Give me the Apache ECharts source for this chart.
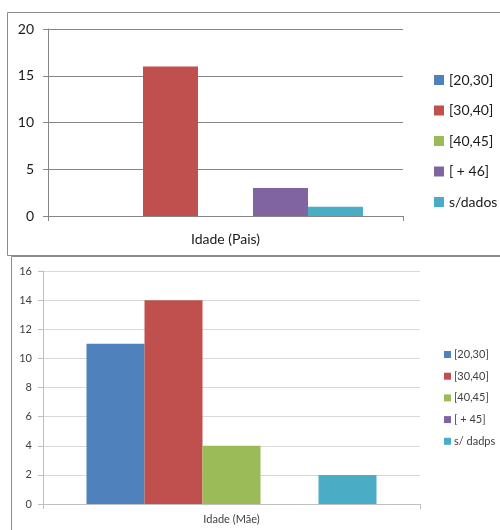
<!DOCTYPE html>
<html lang="pt">
<head>
    <meta charset="UTF-8">
    <title>Idade (Pais) / Idade (Mãe)</title>
    <style>
        html, body {
            margin: 0;
            padding: 0;
            background: #fff;
        }
        #chart {
            width: 500px;
            height: 530px;
        }
    </style>
    <script src="https://cdn.jsdelivr.net/npm/echarts@6/dist/echarts.min.js"></script>
</head>
<body>
    <div id="chart"></div>
    <script>
        // dados - gráfico de cima (pais)
        const paisCategoria = ['Idade (Pais)'];
        const paisSeries = ['[20,30]', '[30,40]', '[40,45]', '[ + 46]', 's/dados'];
        const paisValores = [0, 16, 0, 3, 1];
        const paisTicks = [0, 5, 10, 15, 20];

        // dados - gráfico de baixo (mãe)
        const maeCategoria = ['Idade (Mãe)'];
        const maeSeries = ['[20,30]', '[30,40]', '[40,45]', '[ + 45]', 's/ dadps'];
        const maeValores = [11, 14, 4, 0, 2];
        const maeTicks = [0, 2, 4, 6, 8, 10, 12, 14, 16];

        const cores = ['#4F81BD', '#C0504D', '#9BBB59', '#8064A2', '#4BACC6'];
        const fonte = 'Lato, "Liberation Sans", sans-serif';

        const chart = echarts.init(document.getElementById('chart'));

        const series = [];
        paisSeries.forEach((nome, i) => {
            series.push({
                name: nome,
                type: 'bar',
                xAxisIndex: 0,
                yAxisIndex: 0,
                data: [paisValores[i]],
                barWidth: 55,
                barGap: '0%',
                itemStyle: { color: cores[i] }
            });
        });
        maeSeries.forEach((nome, i) => {
            series.push({
                name: nome,
                type: 'bar',
                xAxisIndex: 1,
                yAxisIndex: 1,
                data: [maeValores[i]],
                barWidth: 58,
                barGap: '0%',
                itemStyle: { color: cores[i] }
            });
        });

        chart.setOption({
            animation: false,
            color: cores,
            graphic: [
                {
                    type: 'rect',
                    shape: { x: 7.5, y: 12.5, width: 520, height: 243 },
                    style: { fill: 'none', stroke: '#8c8c8c', lineWidth: 1 },
                    silent: true
                },
                {
                    type: 'rect',
                    shape: { x: 11.5, y: 256.5, width: 520, height: 300 },
                    style: { fill: 'none', stroke: '#8c8c8c', lineWidth: 1 },
                    silent: true
                }
            ],
            grid: [
                { left: 48, top: 29, right: 97, bottom: 314 },
                { left: 43, top: 271, right: 80, bottom: 26 }
            ],
            legend: [
                {
                    data: paisSeries,
                    orient: 'vertical',
                    left: 429,
                    top: 68,
                    itemWidth: 10,
                    itemHeight: 10,
                    itemGap: 16.5,
                    icon: 'rect',
                    textStyle: { fontSize: 14, color: '#1a1a1a', fontFamily: fonte }
                },
                {
                    data: maeSeries,
                    orient: 'vertical',
                    left: 439,
                    top: 344,
                    itemWidth: 7,
                    itemHeight: 7,
                    itemGap: 10.7,
                    icon: 'rect',
                    textStyle: { fontSize: 11, color: '#404040', fontFamily: fonte, padding: [0, 0, 0, -2] }
                }
            ],
            xAxis: [
                {
                    type: 'category',
                    gridIndex: 0,
                    data: paisCategoria,
                    axisLine: { lineStyle: { color: '#868686', width: 1 } },
                    axisTick: { show: true, length: 5, lineStyle: { color: '#868686' } },
                    axisLabel: { margin: 16, fontSize: 14, color: '#1a1a1a', fontFamily: fonte }
                },
                {
                    type: 'category',
                    gridIndex: 1,
                    data: maeCategoria,
                    axisLine: { lineStyle: { color: '#bfbfbf', width: 1 } },
                    axisTick: { show: true, length: 5, lineStyle: { color: '#bfbfbf' } },
                    axisLabel: { margin: 10, fontSize: 11, color: '#404040', fontFamily: fonte }
                }
            ],
            yAxis: [
                {
                    type: 'value',
                    gridIndex: 0,
                    min: paisTicks[0],
                    max: paisTicks[paisTicks.length - 1],
                    interval: paisTicks[1] - paisTicks[0],
                    axisLine: { show: true, lineStyle: { color: '#868686' } },
                    axisTick: { show: true, length: 5, lineStyle: { color: '#868686' } },
                    splitLine: { lineStyle: { color: '#868686', width: 1 } },
                    axisLabel: { margin: 14, fontSize: 14, color: '#1a1a1a', fontFamily: fonte }
                },
                {
                    type: 'value',
                    gridIndex: 1,
                    min: maeTicks[0],
                    max: maeTicks[maeTicks.length - 1],
                    interval: maeTicks[1] - maeTicks[0],
                    axisLine: { show: true, lineStyle: { color: '#bfbfbf' } },
                    axisTick: { show: true, length: 5, lineStyle: { color: '#bfbfbf' } },
                    splitLine: { lineStyle: { color: '#d9d9d9', width: 1 } },
                    axisLabel: { margin: 11, fontSize: 11, color: '#404040', fontFamily: fonte }
                }
            ],
            series: series
        });
    </script>
</body>
</html>
